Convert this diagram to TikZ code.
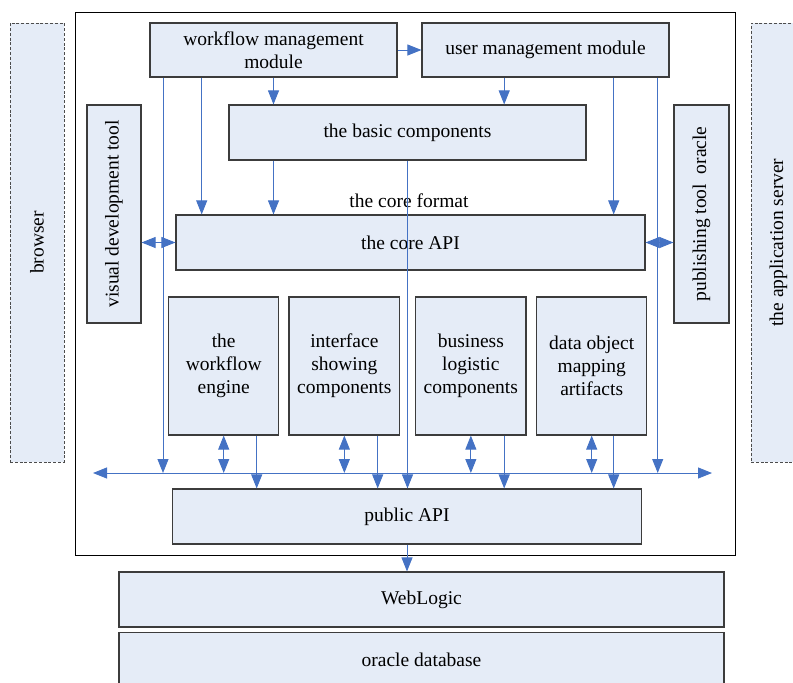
\documentclass[tikz,border=0pt]{standalone}
\usepackage{fontspec}
\setmainfont{Liberation Serif}
\usepackage{graphicx}
\usetikzlibrary{arrows.meta}
\definecolor{boxfill}{HTML}{E5ECF7}
\definecolor{linkblue}{HTML}{4472C4}
\definecolor{edgegray}{HTML}{3C3C3C}
\begin{document}
\begin{tikzpicture}[x=1pt,y=-1pt,
  box/.style={draw=edgegray, fill=boxfill, line width=1.1pt, inner sep=0pt, align=center,
              font=\fontsize{19.5}{23}\selectfont},
  dashbox/.style={box, draw=gray!60!black, dash pattern=on 3pt off 1.8pt, line width=0.9pt},
  conn/.style={draw=linkblue, line width=0.9pt},
  arr/.style={conn, -{Triangle[length=14pt,width=11pt]}, color=linkblue},
  dbl/.style={conn, {Triangle[length=14pt,width=11pt]}-{Triangle[length=14pt,width=11pt]}, color=linkblue},
  lbl/.style={font=\fontsize{19.5}{23}\selectfont}
]
\useasboundingbox (0,0) rectangle (793,683);

% side dashed boxes
\node[dashbox, minimum width=54pt, minimum height=439pt] (browser) at (37,242.5) {\rotatebox{90}{browser}};
\node[dashbox, minimum width=55pt, minimum height=439pt] (appsrv) at (778.5,242.5) {\rotatebox{90}{the application server}};

% outer frame
\node[draw=black, line width=0.9pt, minimum width=660pt, minimum height=543pt, inner sep=0pt] (outer) at (405,283.5) {};

% modules
\node[box, minimum width=247pt, minimum height=54pt] (wm) at (273.5,50) {workflow management\\module};
\node[box, minimum width=247pt, minimum height=54pt] (um) at (545.5,50) {user management module};
\node[box, minimum width=357pt, minimum height=55pt] (basic) at (407.5,132.5) {the basic components};
\node[box, minimum width=54pt, minimum height=218pt] (vdt) at (114,214) {\rotatebox{90}{visual development tool}};
\node[box, minimum width=55pt, minimum height=218pt] (pubtool) at (701.5,214) {\rotatebox{90}{publishing tool\ \ oracle}};
\node[lbl] (cf) at (409,201) {the core format};
\node[box, minimum width=469pt, minimum height=55pt] (core) at (410.5,242.5) {the core API};

\node[box, minimum width=110pt, minimum height=138pt] (eng) at (223.7,366) {the\\workflow\\engine};
\node[box, minimum width=110.7pt, minimum height=138pt] (ifc) at (344.35,366) {interface\\showing\\components};
\node[box, minimum width=110.3pt, minimum height=138pt] (biz) at (470.85,366) {business\\logistic\\components};
\node[box, minimum width=110pt, minimum height=138pt] (dat) at (591.7,366) {data object\\mapping\\artifacts};

\node[box, minimum width=468.7pt, minimum height=55pt] (pubapi) at (407,516.5) {public API};
\node[box, minimum width=605pt, minimum height=55pt] (weblogic) at (421.5,599.5) {WebLogic};
\node[box, minimum width=605pt, minimum height=55pt] (oracle) at (421.5,660.2) {oracle database};

% column and bus coordinates
\coordinate (cA) at (163,0);
\coordinate (cB) at (201.7,0);
\coordinate (cD) at (504.2,0);
\coordinate (cE) at (613.7,0);
\coordinate (cF) at (657.7,0);
\coordinate (cG) at (256.7,0);
\coordinate (cH) at (377.7,0);
\coordinate (busL) at (93,473);
\coordinate (busR) at (712,473);

% bus
\draw[dbl] (busL) -- (busR);

% side double arrows
\draw[dbl] (vdt.east |- core.west) -- (core.west);
\draw[dbl] (core.east) -- (pubtool.west |- core.east);

% top connectors
\draw[arr] (wm.east) -- (um.west);
\draw[arr] (wm.south -| cA) -- (busL -| cA);
\draw[arr] (wm.south -| cB) -- (core.north -| cB);
\draw[arr] (wm.south) -- (wm.south |- basic.north);
\draw[arr] (basic.south -| wm.south) -- (core.north -| wm.south);
\draw[arr] (um.south -| cD) -- (basic.north -| cD);
\draw[arr] (um.south -| cE) -- (core.north -| cE);
\draw[arr] (um.south -| cF) -- (busL -| cF);
\draw[arr] (basic.south) -- (basic.south |- pubapi.north);

% lower component links
\draw[dbl] (eng.south) -- (eng.south |- busL);
\draw[dbl] (ifc.south) -- (ifc.south |- busL);
\draw[dbl] (biz.south) -- (biz.south |- busL);
\draw[dbl] (dat.south) -- (dat.south |- busL);
\draw[arr] (eng.south -| cG) -- (pubapi.north -| cG);
\draw[arr] (ifc.south -| cH) -- (pubapi.north -| cH);
\draw[arr] (biz.south -| cD) -- (pubapi.north -| cD);
\draw[arr] (dat.south -| cE) -- (pubapi.north -| cE);

\draw[arr] (pubapi.south) -- (pubapi.south |- weblogic.north);
\end{tikzpicture}
\end{document}
